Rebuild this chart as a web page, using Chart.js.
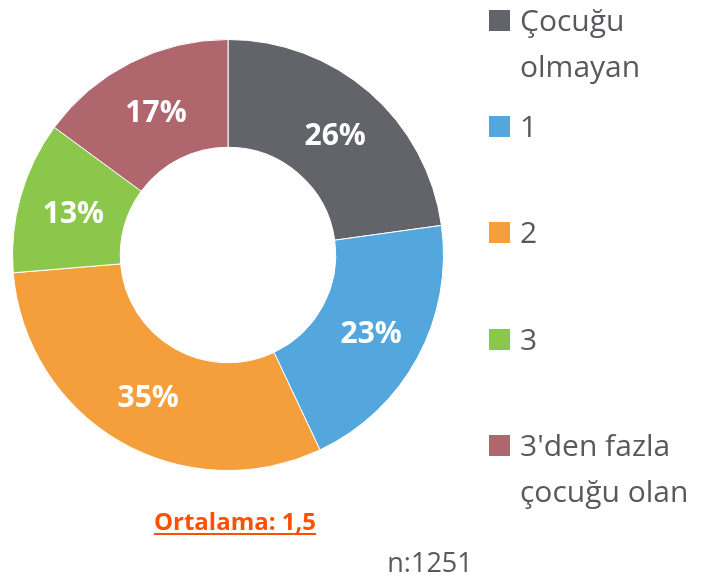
<!DOCTYPE html>
<html>
<head>
<meta charset="utf-8">
<script src="https://cdn.jsdelivr.net/npm/chart.js@4"></script>
<style>
html,body{margin:0;padding:0;background:#fff;}
#wrap{position:relative;width:705px;height:578px;}
</style>
</head>
<body>
<div id="wrap"><canvas id="c" width="705" height="578"></canvas></div>
<script>
const categories = [["Çocuğu", "olmayan"], ["1"], ["2"], ["3"], ["3'den fazla", "çocuğu olan"]];
const values = [26, 23, 35, 13, 17];
const colors = ["#636469", "#53A7DD", "#F59E3C", "#8BC74A", "#AF676D"];
const meanText = "Ortalama: 1,5";
const nText = "n:1251";

const sliceLabels = {
  id: 'sliceLabels',
  afterDatasetsDraw(chart) {
    const ctx = chart.ctx;
    const meta = chart.getDatasetMeta(0);
    ctx.save();
    ctx.fillStyle = '#ffffff';
    ctx.font = 'bold 30px "Open Sans"';
    ctx.textAlign = 'center';
    ctx.textBaseline = 'middle';
    meta.data.forEach((arc, i) => {
      const p = arc.getCenterPoint();
      ctx.fillText(values[i] + '%', p.x + 1, p.y + 3);
    });
    ctx.restore();
  }
};

const sideLegend = {
  id: 'sideLegend',
  afterDraw(chart) {
    const ctx = chart.ctx;
    ctx.save();
    const tops = [10, 116, 222, 329, 435];
    ctx.font = '30px "Open Sans"';
    ctx.textAlign = 'left';
    ctx.textBaseline = 'alphabetic';
    categories.forEach((lines, i) => {
      ctx.fillStyle = colors[i];
      ctx.fillRect(489, tops[i], 21, 21);
      ctx.fillStyle = '#58595E';
      lines.forEach((t, j) => ctx.fillText(t, 520, tops[i] + 21 + j * 46));
    });
    // mean text
    ctx.font = 'bold 24px "Open Sans"';
    ctx.fillStyle = '#FF5000';
    ctx.textAlign = 'left';
    const w = ctx.measureText(meanText).width;
    const x0 = 235 - w / 2;
    ctx.fillText(meanText, x0, 530);
    ctx.fillRect(x0, 533, w, 2);
    // n text
    ctx.font = '27px "Open Sans"';
    ctx.fillStyle = '#58595E';
    ctx.textAlign = 'center';
    ctx.fillText(nText, 430, 572);
    ctx.restore();
  }
};

new Chart(document.getElementById('c'), {
  type: 'doughnut',
  data: {
    labels: categories.map(l => l.join(' ')),
    datasets: [{
      data: values,
      backgroundColor: colors,
      borderColor: '#ffffff',
      borderWidth: 1
    }]
  },
  options: {
    responsive: false,
    animation: false,
    cutout: '50%',
    layout: { padding: { left: 12, right: 261, top: 39, bottom: 107 } },
    plugins: { legend: { display: false }, tooltip: { enabled: false } }
  },
  plugins: [sliceLabels, sideLegend]
});
</script>
</body>
</html>
